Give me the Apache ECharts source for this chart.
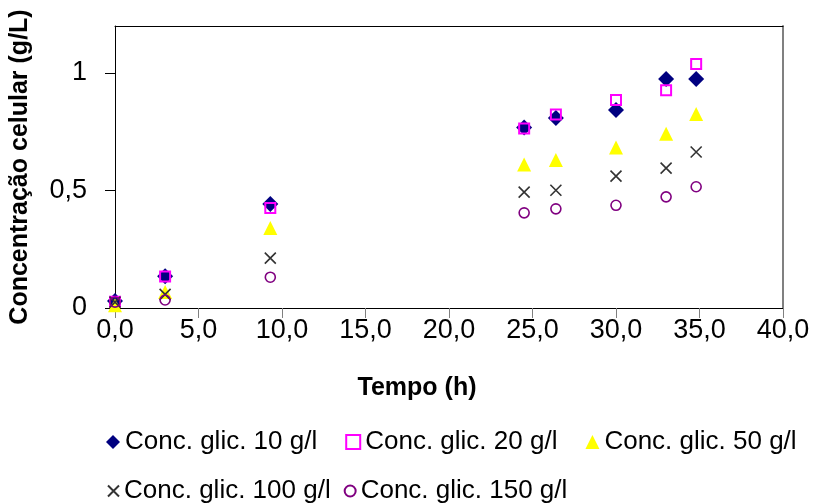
<!DOCTYPE html>
<html>
<head>
<meta charset="utf-8">
<script src="https://cdn.jsdelivr.net/npm/echarts@6/dist/echarts.min.js"></script>
<style>
  html, body { margin: 0; padding: 0; background: #fff; }
  #chart { width: 819px; height: 504px; }
</style>
</head>
<body>
<div id="chart"></div>
<script>
// Sampling times (h)
const tempo = [0, 3.0, 9.3, 24.5, 26.4, 30.0, 33.0, 34.8];

// Cell concentration (g/L) for each glucose concentration
const glic10  = [0.03, 0.135, 0.443, 0.768, 0.809, 0.843, 0.974, 0.974];
const glic20  = [0.027, 0.134, 0.426, 0.764, 0.823, 0.885, 0.927, 1.038];
const glic50  = [0.012, 0.068, 0.340, 0.611, 0.630, 0.683, 0.741, 0.826];
const glic100 = [0.025, 0.058, 0.212, 0.493, 0.501, 0.561, 0.595, 0.664];
const glic150 = [0.025, 0.034, 0.131, 0.405, 0.422, 0.437, 0.473, 0.516];

const seriesNames = [
  'Conc. glic. 10 g/l',
  'Conc. glic. 20 g/l',
  'Conc. glic. 50 g/l',
  'Conc. glic. 100 g/l',
  'Conc. glic. 150 g/l'
];

// Axis tick labels
const xTicks = [0, 5, 10, 15, 20, 25, 30, 35, 40];
const xTickLabels = ['0,0', '5,0', '10,0', '15,0', '20,0', '25,0', '30,0', '35,0', '40,0'];
const yTicks = [0, 0.5, 1];
const yTickLabels = ['0', '0,5', '1'];

const FONT = '"Liberation Sans", Arial, sans-serif';
const crossPath = 'path://M0,0L10,10M10,0L0,10';

function pairs(ys) { return tempo.map((t, i) => [t, ys[i]]); }

const chart = echarts.init(document.getElementById('chart'), null, { renderer: 'canvas' });

chart.setOption({
  backgroundColor: '#fff',
  animation: false,
  textStyle: { fontFamily: FONT },
  grid: { left: 115, right: 36, top: 26, bottom: 196, containLabel: false },
  xAxis: [{
    type: 'value', min: 0, max: 40, interval: 5,
    name: 'Tempo (h)', nameLocation: 'middle', nameGap: 68,
    nameTextStyle: { fontFamily: FONT, fontSize: 25, fontWeight: 'bold', color: '#000', padding: [0, 64, 0, 0] },
    axisLine: { show: true, onZero: false, lineStyle: { color: '#000', width: 1 } },
    axisTick: { show: true, inside: false, length: 10, lineStyle: { color: '#808080', width: 1 } },
    axisLabel: {
      fontFamily: FONT, fontSize: 27, color: '#000', margin: 9,
      formatter: v => { const i = xTicks.indexOf(v); return i >= 0 ? xTickLabels[i] : ''; }
    },
    splitLine: { show: false }
  }, {
    type: 'value', min: 0, max: 40, position: 'top',
    axisLine: { show: true, onZero: false, lineStyle: { color: '#000', width: 1 } },
    axisTick: { show: false }, axisLabel: { show: false }, splitLine: { show: false }
  }],
  yAxis: [{
    type: 'value', min: 0, max: 1.2, interval: 0.5,
    name: 'Concentração celular (g/L)', nameLocation: 'middle', nameGap: 82,
    nameTextStyle: { fontFamily: FONT, fontSize: 25, fontWeight: 'bold', color: '#000' },
    axisLine: { show: true, onZero: false, lineStyle: { color: '#000', width: 1 } },
    axisTick: { show: true, inside: false, length: 10, customValues: yTicks, lineStyle: { color: '#000', width: 1 } },
    axisLabel: {
      fontFamily: FONT, fontSize: 27, color: '#000', margin: 28,
      customValues: yTicks,
      formatter: v => { const i = yTicks.indexOf(v); return i >= 0 ? yTickLabels[i] : ''; }
    },
    splitLine: { show: false }
  }, {
    type: 'value', min: 0, max: 1.2, position: 'right',
    axisLine: { show: true, onZero: false, lineStyle: { color: '#808080', width: 2 } },
    axisTick: { show: false }, axisLabel: { show: false }, splitLine: { show: false }
  }],
  legend: [{
    data: [
      { name: seriesNames[0], icon: 'diamond' },
      { name: seriesNames[1], icon: 'rect' },
      { name: seriesNames[2], icon: 'triangle' }
    ],
    left: 101, top: 424, orient: 'horizontal',
    itemWidth: 14, itemHeight: 14, itemGap: 28,
    textStyle: { fontFamily: FONT, fontSize: 26, color: '#000' }
  }, {
    data: [
      { name: seriesNames[3], icon: crossPath },
      { name: seriesNames[4], icon: 'circle' }
    ],
    left: 102, top: 473, orient: 'horizontal',
    itemWidth: 11, itemHeight: 11, itemGap: 13,
    textStyle: { fontFamily: FONT, fontSize: 26, color: '#000' }
  }],
  series: [{
    name: seriesNames[0], type: 'scatter', data: pairs(glic10),
    symbol: 'diamond', symbolSize: 16,
    itemStyle: { color: '#000080', opacity: 1 }
  }, {
    name: seriesNames[1], type: 'scatter', data: pairs(glic20),
    symbol: 'rect', symbolSize: 10,
    itemStyle: { color: 'rgba(255,255,255,0)', borderColor: '#FF00FF', borderWidth: 2, opacity: 1 }
  }, {
    name: seriesNames[2], type: 'scatter', data: pairs(glic50),
    symbol: 'triangle', symbolSize: 14,
    itemStyle: { color: '#FFFF00', opacity: 1 }
  }, {
    name: seriesNames[3], type: 'scatter', data: pairs(glic100),
    symbol: crossPath, symbolSize: 11,
    itemStyle: { color: 'rgba(0,0,0,0)', borderColor: '#333333', borderWidth: 1.6, opacity: 1 }
  }, {
    name: seriesNames[4], type: 'scatter', data: pairs(glic150),
    symbol: 'circle', symbolSize: 10,
    itemStyle: { color: 'rgba(255,255,255,0)', borderColor: '#800080', borderWidth: 1.6, opacity: 1 }
  }]
});
</script>
</body>
</html>
